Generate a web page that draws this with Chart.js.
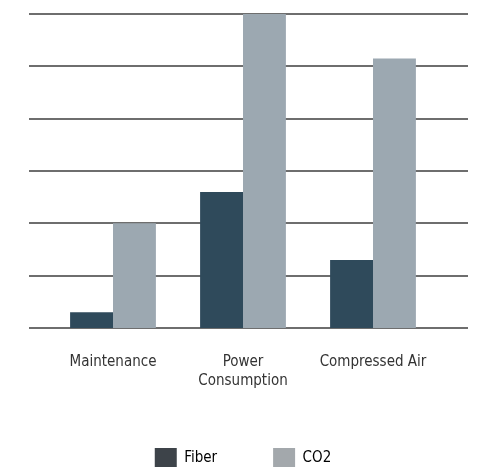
<!DOCTYPE html>
<html>
<head>
<meta charset="utf-8">
<script src="https://cdn.jsdelivr.net/npm/chart.js@4/dist/chart.umd.min.js"></script>
<style>
  html, body { margin: 0; padding: 0; background: #ffffff; overflow: hidden; }
  #wrap { width: 478px; height: 478px; }
</style>
</head>
<body>
<div id="wrap"><canvas id="chart" width="478" height="478"></canvas></div>
<script>
// Cost comparison: fiber laser vs CO2 laser
const categories = ['Maintenance', ['Power', 'Consumption'], 'Compressed Air'];
const seriesNames = ['Fiber', 'CO2'];
const fiberValues = [0.3, 2.6, 1.3];
const co2Values = [2.0, 6.0, 5.15];
const yTicks = [0, 1, 2, 3, 4, 5, 6];

const barColors = ['#2f4a5b', '#9ca8b1'];
const legendColors = ['#3d4349', '#a3a8ac'];
const gridColor = '#6e6e6e';
const textColor = '#333333';

// Prefer a condensed face for the labels when one is installed
function pickLabelFont() {
  const c = document.createElement('canvas').getContext('2d');
  const sample = 'Maintenance';
  c.font = '15px "DejaVu Sans"';
  const normalW = c.measureText(sample).width;
  c.font = 'condensed 15px "DejaVu Sans"';
  const condW = c.measureText(sample).width;
  if (condW < normalW - 1) {
    return { family: '"DejaVu Sans"', weight: 'condensed', size: 15 };
  }
  return { family: 'Roboto, "Noto Sans", sans-serif', weight: 'normal', size: 14.5 };
}
const labelFont = pickLabelFont();

// Horizontal rules at each y tick, running slightly past the plot area on both sides
const wideGrid = {
  id: 'wideGrid',
  beforeDatasetsDraw(chart) {
    const y = chart.scales.y;
    const ctx = chart.ctx;
    ctx.save();
    ctx.strokeStyle = gridColor;
    ctx.lineWidth = 2;
    y.ticks.forEach(t => {
      const py = Math.round(y.getPixelForValue(t.value));
      ctx.beginPath();
      ctx.moveTo(chart.chartArea.left - 19, py);
      ctx.lineTo(chart.chartArea.right + 30, py);
      ctx.stroke();
    });
    ctx.restore();
  }
};

new Chart(document.getElementById('chart'), {
  type: 'bar',
  data: {
    labels: categories,
    datasets: [
      { label: seriesNames[0], data: fiberValues, backgroundColor: barColors[0] },
      { label: seriesNames[1], data: co2Values, backgroundColor: barColors[1] }
    ]
  },
  options: {
    responsive: false,
    animation: false,
    layout: { padding: { top: 14, left: 48, right: 40, bottom: 0 } },
    datasets: {
      bar: { categoryPercentage: 0.66, barPercentage: 1.0, borderWidth: 0 }
    },
    scales: {
      x: {
        grid: { display: false, drawTicks: false },
        border: { display: false },
        ticks: {
          color: textColor,
          padding: 24,
          maxRotation: 0,
          autoSkip: false,
          font: { family: labelFont.family, weight: labelFont.weight, size: labelFont.size, lineHeight: 1.3 }
        },
        afterFit(scale) { scale.height = 64; }
      },
      y: {
        display: false,
        min: 0,
        max: yTicks[yTicks.length - 1],
        ticks: { stepSize: 1 }
      }
    },
    plugins: {
      tooltip: { enabled: false },
      legend: {
        position: 'bottom',
        labels: {
          boxWidth: 22,
          boxHeight: 20,
          padding: 56,
          color: textColor,
          font: { family: labelFont.family, weight: labelFont.weight, size: labelFont.size },
          generateLabels(chart) {
            return chart.data.datasets.map((ds, i) => ({
              text: ds.label,
              fillStyle: legendColors[i],
              strokeStyle: legendColors[i],
              lineWidth: 0,
              hidden: false,
              datasetIndex: i
            }));
          }
        }
      }
    }
  },
  plugins: [wideGrid]
});
</script>
</body>
</html>
